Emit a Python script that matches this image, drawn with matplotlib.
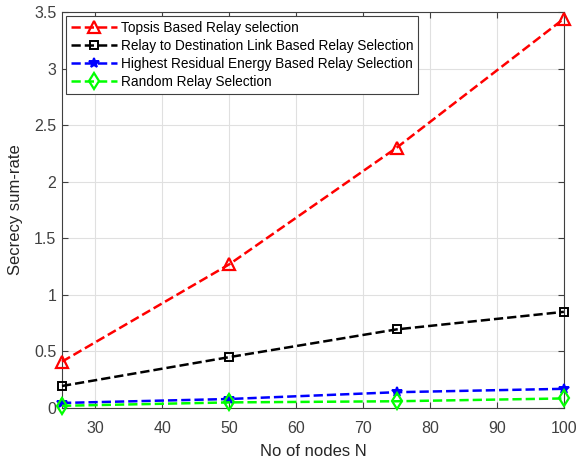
import matplotlib
matplotlib.use("Agg")
import matplotlib.pyplot as plt

plt.rcParams['font.family'] = ['Liberation Sans', 'DejaVu Sans']

nodes = [25, 50, 75, 100]
topsis = [0.41, 1.27, 2.30, 3.44]
r2d = [0.195, 0.45, 0.695, 0.85]
residual = [0.045, 0.08, 0.14, 0.17]
random_sel = [0.02, 0.05, 0.06, 0.085]
labels = ["Topsis Based Relay selection",
          "Relay to Destination Link Based Relay Selection",
          "Highest Residual Energy Based Relay Selection",
          "Random Relay Selection"]
xticks = [30, 40, 50, 60, 70, 80, 90, 100]
yticks = [0, 0.5, 1, 1.5, 2, 2.5, 3, 3.5]
yticklabels = ["0", "0.5", "1", "1.5", "2", "2.5", "3", "3.5"]

fig = plt.figure(figsize=(5.87, 4.59), dpi=100)
ax = fig.add_axes([0.1056, 0.111, 0.855, 0.863])

ax.plot(nodes, topsis, '--', color='red', lw=1.8, marker='^', ms=8, mfc='none', mew=1.6, label=labels[0], clip_on=False, zorder=5)
ax.plot(nodes, r2d, '--', color='black', lw=1.8, marker='s', ms=6, mfc='none', mew=1.4, label=labels[1], clip_on=False, zorder=5)
ax.plot(nodes, residual, '--', color='blue', lw=1.8, marker='*', ms=7, mfc='blue', mew=1.4, label=labels[2], clip_on=False, zorder=5)
ax.plot(nodes, random_sel, '--', color='#00ff00', lw=1.8, marker='d', ms=8, mfc='none', mew=1.6, label=labels[3], clip_on=False, zorder=5)

ax.set_xlim(25, 100)
ax.set_ylim(0, 3.5)
ax.set_xticks(xticks)
ax.set_yticks(yticks)
ax.set_yticklabels(yticklabels)
ax.grid(True, color='#e0e0e0', lw=0.8)
ax.set_axisbelow(True)
ax.tick_params(direction='in', top=True, right=True, labelsize=11.5, colors='#404040', length=4)
ax.tick_params(axis='x', pad=9)
ax.tick_params(axis='y', pad=4)
for s in ax.spines.values():
    s.set_color('#404040')
    s.set_linewidth(0.8)
ax.set_xlabel("No of nodes N", fontsize=12, color='#262626', labelpad=6)
ax.set_ylabel("Secrecy sum-rate", fontsize=12, color='#262626', labelpad=8)

leg = ax.legend(loc='upper left', fontsize=9.8, fancybox=False, framealpha=1,
                edgecolor='#404040', borderaxespad=0.3, handlelength=3.4,
                labelspacing=0.3, borderpad=0.35, handletextpad=0.3)
leg.get_frame().set_linewidth(0.8)
leg.set_zorder(10)

fig.savefig("out.png", dpi=100)
